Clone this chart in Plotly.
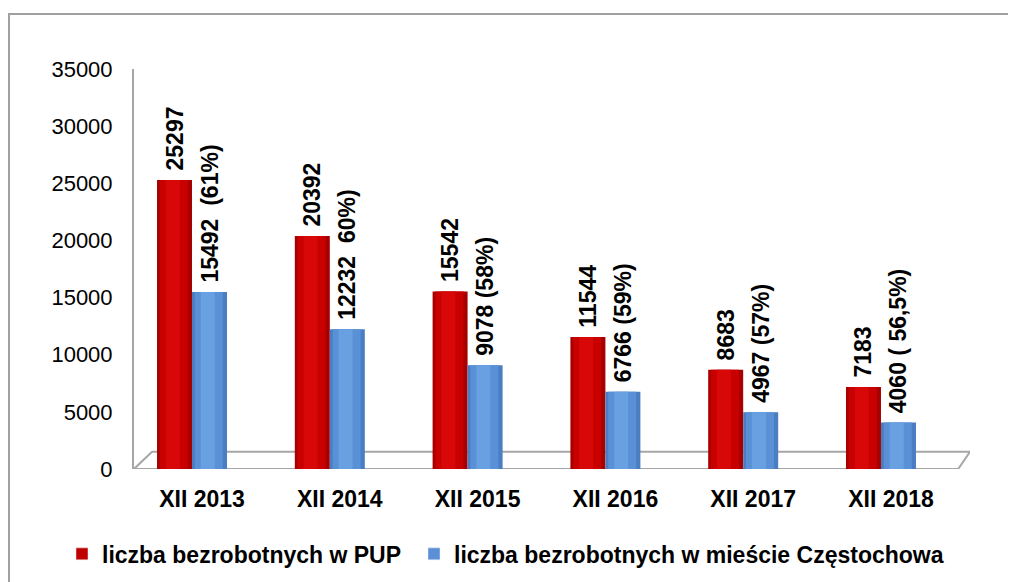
import plotly.graph_objects as go

categories = ["XII 2013", "XII 2014", "XII 2015", "XII 2016", "XII 2017", "XII 2018"]
pup_values = [25297, 20392, 15542, 11544, 8683, 7183]
city_values = [15492, 12232, 9078, 6766, 4967, 4060]
pup_labels = ["25297", "20392", "15542", "11544", "8683", "7183"]
city_labels = ["15492  (61%)", "12232  60%)", "9078 (58%)", "6766 (59%)", "4967 (57%)", "4060 ( 56,5%)"]
series_names = ["liczba bezrobotnych w PUP", "liczba bezrobotnych w mieście Częstochowa"]
y_ticks = [0, 5000, 10000, 15000, 20000, 25000, 30000, 35000]

RED_EDGE, RED_MID, RED_HI = "#A80000", "#C80000", "#D80808"
BLUE_EDGE, BLUE_MID, BLUE_HI = "#4A7DC2", "#5A90D6", "#69A0E2"
RED_LEG, BLUE_LEG = "#C00000", "#5B8FD6"
FONT = "Liberation Sans, Arial, sans-serif"

xpos = list(range(len(categories)))
bw = 0.254

fig = go.Figure()


def add_cylinder(values, labels, name, offset, edge, mid, hi, legend_name, leg_color):
    # outer (darker edges)
    fig.add_trace(go.Bar(
        x=xpos, y=values, name=name, width=bw, offset=offset,
        marker=dict(color=edge, line=dict(width=0)), legend=legend_name,
        showlegend=False, hoverinfo="skip",
    ))
    # body
    fig.add_trace(go.Bar(
        x=xpos, y=values, width=bw * 0.8, offset=offset + bw * 0.08,
        marker=dict(color=mid, line=dict(width=0)), showlegend=False, hoverinfo="skip",
    ))
    # highlight
    fig.add_trace(go.Bar(
        x=xpos, y=values, width=bw * 0.4, offset=offset + bw * 0.25,
        marker=dict(color=hi, line=dict(width=0)), showlegend=False, hoverinfo="skip",
    ))
    # transparent carrier for labels
    fig.add_trace(go.Bar(
        x=xpos, y=values, name=name, width=bw, offset=offset,
        marker=dict(color="rgba(0,0,0,0)", line=dict(width=0)), legend=legend_name,
        text=["\u00a0" + t for t in labels], textposition="outside", textangle=-90,
        constraintext="none",
        textfont=dict(family=FONT, size=23, color="black", weight="bold"), cliponaxis=False,
        showlegend=False,
    ))
    # legend entry
    fig.add_trace(go.Bar(
        x=[None], y=[None], name=name, marker=dict(color=leg_color), legend=legend_name,
        showlegend=True,
    ))


add_cylinder(pup_values, pup_labels, series_names[0], -bw, RED_EDGE, RED_MID, RED_HI, "legend", RED_LEG)
add_cylinder(city_values, city_labels, series_names[1], 0, BLUE_EDGE, BLUE_MID, BLUE_HI, "legend2", BLUE_LEG)

# floor parallelogram
fig.add_shape(type="path", xref="x", yref="y",
              path="M -0.421,0 L 5.56,0 L 5.646,1500 L -0.29,1500 Z",
              line=dict(color="#A6A6A6", width=2), fillcolor="rgba(0,0,0,0)", layer="below")
# outer border
fig.add_shape(type="rect", xref="paper", yref="paper",
              x0=-0.1495, y0=-0.6, x1=1.3, y1=1.1375,
              line=dict(color="#A0A0A0", width=2), fillcolor="rgba(0,0,0,0)", layer="below")

legend_common = dict(xref="container", yref="container", xanchor="left", yanchor="middle",
                     y=0.062, font=dict(family=FONT, size=23, color="black", weight="bold"),
                     itemwidth=30, bgcolor="rgba(0,0,0,0)")

fig.update_layout(
    width=1016, height=582,
    margin=dict(l=126, r=54, t=61, b=121, autoexpand=False),
    paper_bgcolor="white", plot_bgcolor="white",
    barmode="overlay",
    font=dict(family=FONT, color="black"),
    showlegend=True,
    legend=dict(x=54 / 1016, **legend_common),
    legend2=dict(x=406 / 1016, **legend_common),
    xaxis=dict(range=[-0.421, 5.646], tickvals=[i + 0.0726 for i in xpos], ticktext=categories,
               showgrid=False, zeroline=False, showline=False, ticks="",
               tickfont=dict(family=FONT, size=23, color="black", weight="bold"),
               ticklabelstandoff=14),
    yaxis=dict(range=[0, 35000], tickvals=y_ticks, tickformat="d", showgrid=False, zeroline=False,
               showline=True, linecolor="#A6A6A6", linewidth=2, ticks="",
               tickfont=dict(family=FONT, size=22, color="black"),
               ticklabelstandoff=15),
)

fig.write_html("out.html")
